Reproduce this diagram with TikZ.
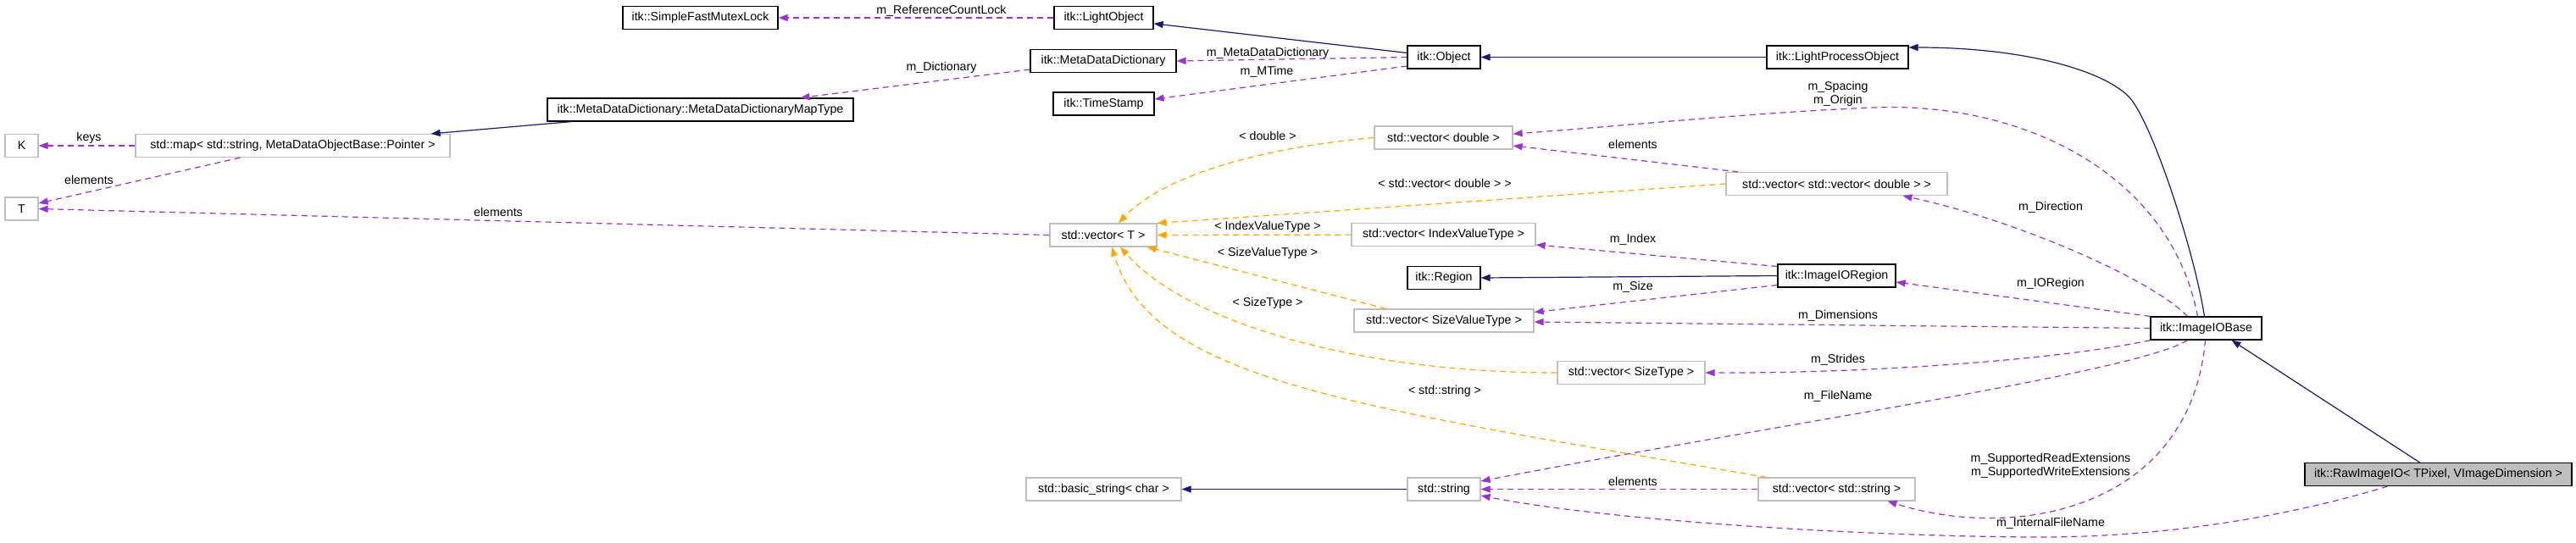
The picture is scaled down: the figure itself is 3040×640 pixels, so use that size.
\documentclass[tikz,border=0pt]{standalone}
\usepackage{fontspec}
\setmainfont{Liberation Sans}
\usetikzlibrary{arrows.meta, positioning}
\definecolor{cdblue}{HTML}{191970}
\definecolor{cdpurple}{HTML}{9A32CD}
\definecolor{cdorange}{HTML}{FFA500}
\definecolor{cdgray}{HTML}{BFBFBF}
\tikzset{
  >={Triangle[length=11pt, width=8pt]},
  cd box/.style={draw, fill=white, minimum height=27pt, inner sep=2pt, line width=1.2pt},
  cd cls/.style={cd box, draw=black},
  cd ext/.style={cd box, draw=cdgray},
  cd self/.style={cd box, draw=black, fill=cdgray},
  cd inh/.style={draw=cdblue, ->, line width=1.2pt},
  cd use/.style={draw=cdpurple, ->, line width=1.2pt, dash pattern=on 7pt off 5pt},
  cd tpl/.style={draw=cdorange, ->, line width=1.2pt, dash pattern=on 7pt off 5pt},
  cd lbl/.style={inner sep=0pt, align=center},
}

\begin{document}
\begin{tikzpicture}[x=1pt, y=-1pt, font=\fontsize{14.2}{16}\selectfont]
 \useasboundingbox (0,0) rectangle (3040,640);
 % classes
 \node[cd ext, minimum width=39pt] (K) at (25.5,172) {K};
 \node[cd ext, minimum width=39pt] (T) at (25.5,246.5) {T};
 \node[cd ext, minimum width=371pt] (map) at (345.5,172) {std::map< std::string, MetaDataObjectBase::Pointer >};
 \node[cd cls, minimum width=183pt] (mutex) at (826.5,21) {itk::SimpleFastMutexLock};
 \node[cd cls, minimum width=361pt] (maptype) at (826.5,129.5) {itk::MetaDataDictionary::MetaDataDictionaryMapType};
 \node[cd cls, minimum width=117pt] (lightobj) at (1302.5,21) {itk::LightObject};
 \node[cd cls, minimum width=172pt] (mdd) at (1302,72) {itk::MetaDataDictionary};
 \node[cd cls, minimum width=119pt] (tstamp) at (1302.5,122.5) {itk::TimeStamp};
 \node[cd ext, minimum width=126pt] (vecT) at (1302,277.5) {std::vector< T >};
 \node[cd ext, minimum width=183pt] (bstr) at (1302.5,577.5) {std::basic\_string< char >};
 \node[cd cls, minimum width=86pt] (object) at (1704,67.5) {itk::Object};
 \node[cd ext, minimum width=163pt] (vdbl) at (1703.5,162.5) {std::vector< double >};
 \node[cd ext, minimum width=217pt] (vidx) at (1703.5,277) {std::vector< IndexValueType >};
 \node[cd cls, minimum width=86pt] (region) at (1704,328) {itk::Region};
 \node[cd ext, minimum width=212pt] (vsv) at (1704,378.5) {std::vector< SizeValueType >};
 \node[cd ext, minimum width=86pt] (str) at (1704,577.5) {std::string};
 \node[cd ext, minimum width=174pt] (vsz) at (1925,440) {std::vector< SizeType >};
 \node[cd cls, minimum width=167pt] (lpo) at (2168.5,67.5) {itk::LightProcessObject};
 \node[cd ext, minimum width=261pt] (vvd) at (2167.5,217) {std::vector< std::vector< double > >};
 \node[cd cls, minimum width=139pt] (ioreg) at (2167.5,325.5) {itk::ImageIORegion};
 \node[cd ext, minimum width=185pt] (vstr) at (2167.5,577.5) {std::vector< std::string >};
 \node[cd cls, minimum width=131pt] (iobase) at (2603.5,387.5) {itk::ImageIOBase};
 \node[cd self, minimum width=315pt] (raw) at (2877.5,560) {itk::RawImageIO< TPixel, VImageDimension >};

 % inheritance
 \draw[cd inh] (object) -- (lightobj);
 \draw[cd inh] (lpo) -- (object);
 \draw[cd inh] ([xshift=-2pt]iobase.north) .. controls (2590,300) and (2545,160) .. (2517,120)
   .. controls (2495,88) and (2400,56) .. ([yshift=11.5pt]lpo.east);
 \draw[cd inh] ([xshift=29pt]maptype.south west) -- ([xshift=-23pt]map.north east);
 \draw[cd inh] (ioreg.west) -- (region.east);
 \draw[cd inh] (str) -- (bstr);
 \draw[cd inh] ([xshift=-22pt]raw.north) -- ([xshift=30pt]iobase.south);

 % usage
 \draw[cd use] (lightobj) -- (mutex) node[cd lbl] (lreflock) at (1111,13) {m\_ReferenceCountLock};
 \draw[cd use] (object.west) -- (mdd.east) node[cd lbl] (lmdd) at (1496,63) {m\_MetaDataDictionary};
 \draw[cd use] ([yshift=-10.5pt]object.west) -- ([yshift=5.5pt]tstamp.east) node[cd lbl] (lmtime) at (1495,85) {m\_MTime};
 \draw[cd use] ([yshift=-10pt]mdd.west) -- ([xshift=118pt]maptype.north) node[cd lbl] (ldict) at (1111,80) {m\_Dictionary};
 \draw[cd use] (map) -- (K) node[cd lbl] (lkeys) at (105,163) {keys};
 \draw[cd use] ([xshift=-62pt]map.south) -- ([yshift=6.5pt]T.east) node[cd lbl] (lelmap) at (105,212) {elements};
 \draw[cd use] (vecT.west) -- (T.east) node[cd lbl] (lelvec) at (588,250) {elements};
 \draw[cd use] ([xshift=-10pt]iobase.north) .. controls (2560,200) and (2380,120) .. (2212,127)
   .. controls (2080,132) and (1900,150) .. ([yshift=4.5pt]vdbl.east)
   node[cd lbl] (lspacing) at (2169,110.5) {m\_Spacing\\m\_Origin};
 \draw[cd use] ([xshift=15pt]vvd.north west) -- ([yshift=-9.5pt]vdbl.east) node[cd lbl] (lelvvd) at (1927,170) {elements};
 \draw[cd use] ([xshift=-22pt]iobase.north) .. controls (2540,330) and (2380,260) .. ([xshift=78pt]vvd.south)
   node[cd lbl] (ldir) at (2420,245) {m\_Direction};
 \draw[cd use] ([yshift=11pt]ioreg.west) -- ([yshift=-12pt]vidx.east) node[cd lbl] (lindex) at (1927,283) {m\_Index};
 \draw[cd use] ([yshift=-11pt]ioreg.west) -- ([yshift=10pt]vsv.east) node[cd lbl] (lsize) at (1927,339) {m\_Size};
 \draw[cd use] (iobase.north west) -- ([yshift=-7.5pt]ioreg.east) node[cd lbl] (lioreg) at (2420,335) {m\_IORegion};
 \draw[cd use] (iobase.west) -- ([yshift=-1.5pt]vsv.east) node[cd lbl] (ldims) at (2169,373) {m\_Dimensions};
 \draw[cd use] (iobase.south west) .. controls (2430,425) and (2200,441) .. (vsz.east)
   node[cd lbl] (lstrides) at (2169,425) {m\_Strides};
 \draw[cd use] ([xshift=-22pt]iobase.south) .. controls (2520,440) and (2100,500) .. ([yshift=9.5pt]str.east)
   node[cd lbl] (lfname) at (2169,468) {m\_FileName};
 \draw[cd use] ([xshift=-1pt]iobase.south) .. controls (2585,600) and (2380,640) .. ([xshift=60pt]vstr.south)
   node[cd lbl] (lsupp) at (2420,550) {m\_SupportedReadExtensions\\m\_SupportedWriteExtensions};
 \draw[cd use] (vstr) -- (str) node[cd lbl] (lelstr) at (1927,568) {elements};
 \draw[cd use] ([xshift=-60pt]raw.south) .. controls (2700,610) and (2550,635) .. (2400,634)
   .. controls (2200,633) and (1900,615) .. ([yshift=-7.5pt]str.east)
   node[cd lbl] (lintern) at (2420,618) {m\_InternalFileName};

 % template instances
 \draw[cd tpl] (vdbl.west) .. controls (1480,175) and (1370,210) .. ([xshift=18pt]vecT.north)
   node[cd lbl] (tdbl) at (1496,160) {< double >};
 \draw[cd tpl] (vvd.west) -- (vecT.north east) node[cd lbl] (tvvd) at (1705,216) {< std::vector< double > >};
 \draw[cd tpl] (vidx) -- (vecT) node[cd lbl] (tidx) at (1496,268) {< IndexValueType >};
 \draw[cd tpl] ([xshift=38pt]vsv.north west) -- ([xshift=-12pt]vecT.south east)
   node[cd lbl] (tsv) at (1496,299) {< SizeValueType >};
 \draw[cd tpl] (vsz.west) .. controls (1600,440) and (1400,380) .. ([xshift=20pt]vecT.south)
   node[cd lbl] (tsz) at (1496,358) {< SizeType >};
 \draw[cd tpl] ([xshift=10pt]vstr.north west) .. controls (1600,480) and (1360,450) .. ([xshift=10pt]vecT.south)
   node[cd lbl] (tstr) at (1705,462) {< std::string >};
\end{tikzpicture}
\end{document}
